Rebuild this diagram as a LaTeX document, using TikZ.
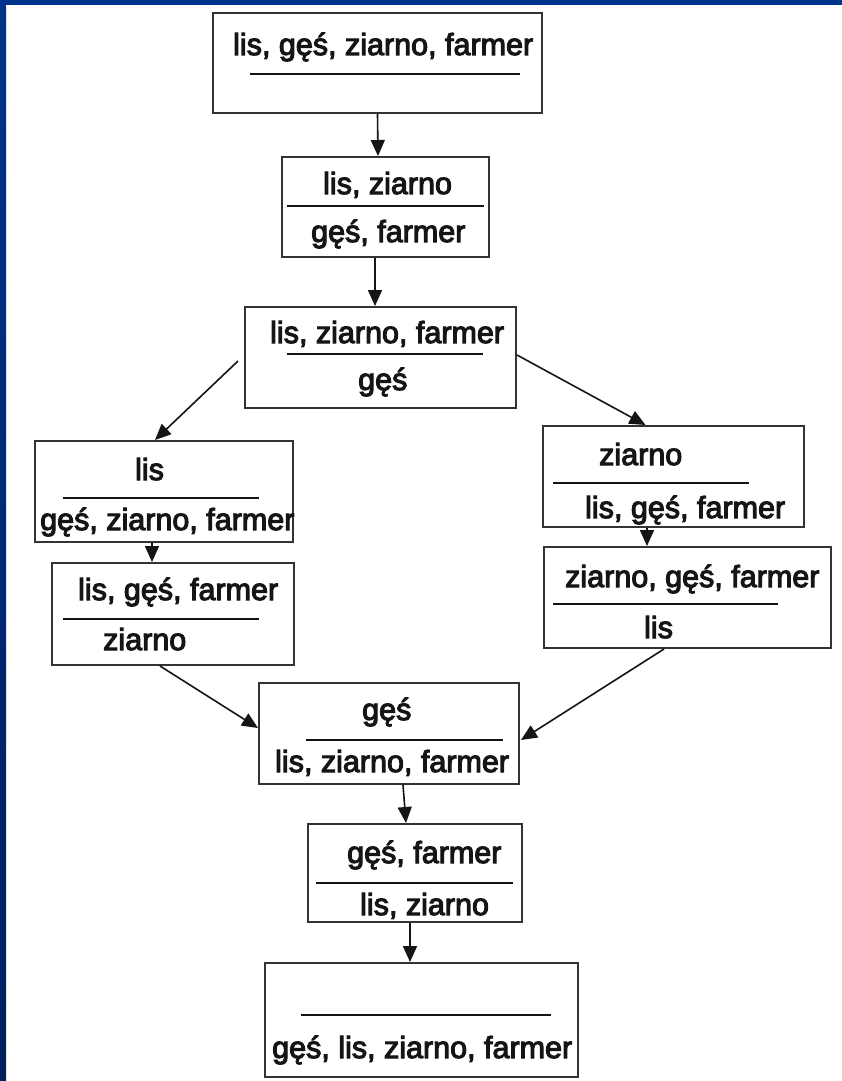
\documentclass[tikz,border=0pt]{standalone}
\usepackage{fontspec}
\newfontfamily\lab[FakeBold=3.5]{Liberation Sans}
\usetikzlibrary{arrows.meta,calc}
\definecolor{navytop}{HTML}{00338C}
\definecolor{navybot}{HTML}{001E5C}
\definecolor{boxline}{HTML}{333333}
\definecolor{ink}{HTML}{151515}
\tikzset{
  box/.style={draw=boxline,line width=2pt,fill=white,inner sep=0pt,rectangle},
  lbl/.style={anchor=base west,inner sep=0pt,font=\lab\fontsize{30.5}{36}\selectfont,text=ink},
  sep/.style={draw=ink,line width=1.8pt},
  arr/.style={draw=ink,line width=1.6pt,-{Triangle[length=16pt,width=14pt]}}
}
\begin{document}
\begin{tikzpicture}[x=1pt,y=-1pt]
\useasboundingbox (0,0) rectangle (842,1081);
\fill[white] (0,0) rectangle (842,1081);
\shade[top color=navytop,bottom color=navybot] (0,0) rectangle (6,1081);
\fill[navytop] (0,0) rectangle (842,5);

% boxes
\node[box,minimum width=329pt,minimum height=100pt] (b1) at (377.5,63) {};
\node[box,minimum width=207pt,minimum height=100pt] (b2) at (385.5,207) {};
\node[box,minimum width=271pt,minimum height=101pt] (b3) at (380.5,357.5) {};
\node[box,minimum width=258pt,minimum height=101pt] (b4) at (164,491.5) {};
\node[box,minimum width=242pt,minimum height=102pt] (b5) at (173,614) {};
\node[box,minimum width=261pt,minimum height=101pt] (b6) at (673.5,476.5) {};
\node[box,minimum width=287pt,minimum height=101pt] (b7) at (687.5,597.5) {};
\node[box,minimum width=260pt,minimum height=101pt] (b8) at (389,733.5) {};
\node[box,minimum width=214pt,minimum height=98pt] (b9) at (415,873) {};
\node[box,minimum width=313pt,minimum height=114pt] (b10) at (421.5,1020) {};

% box 1
\node[lbl] (t1a) at (233,55) {lis, gęś, ziarno, farmer};
\draw[sep] (250,74) -- (520,74);
% box 2
\node[lbl] (t2a) at (323,194) {lis, ziarno};
\draw[sep] (287,206) -- (484,206);
\node[lbl] (t2b) at (311,242) {gęś, farmer};
% box 3
\node[lbl] (t3a) at (270,343) {lis, ziarno, farmer};
\draw[sep] (287,354) -- (483,354);
\node[lbl] (t3b) at (358,390) {gęś};
% box 4
\node[lbl] (t4a) at (135,480) {lis};
\draw[sep] (63,498) -- (259,498);
\node[lbl] (t4b) at (40,530) {gęś, ziarno, farmer};
% box 5
\node[lbl] (t5a) at (78,600) {lis, gęś, farmer};
\draw[sep] (63,619) -- (259,619);
\node[lbl] (t5b) at (103,650) {ziarno};
% box 6
\node[lbl] (t6a) at (599,465) {ziarno};
\draw[sep] (553,483) -- (749,483);
\node[lbl] (t6b) at (585,518) {lis, gęś, farmer};
% box 7
\node[lbl] (t7a) at (565,587) {ziarno, gęś, farmer};
\draw[sep] (553,604) -- (778,604);
\node[lbl] (t7b) at (644,638) {lis};
% box 8
\node[lbl] (t8a) at (362,720) {gęś};
\draw[sep] (306,740) -- (503,740);
\node[lbl] (t8b) at (275,772) {lis, ziarno, farmer};
% box 9
\node[lbl] (t9a) at (347,863) {gęś, farmer};
\draw[sep] (316,883) -- (513,883);
\node[lbl] (t9b) at (360,915) {lis, ziarno};
% box 10
\draw[sep] (301,1015) -- (551,1015);
\node[lbl] (t10b) at (272,1058) {gęś, lis, ziarno, farmer};

% connectors
\coordinate (a3s) at (238,361);
\draw[arr] (b1.south) -- ([xshift=-7.5pt]b2.north);
\draw[arr] ([xshift=-10.5pt]b2.south) -- ([xshift=-5.5pt]b3.north);
\draw[arr] (a3s) -- ([xshift=-9pt]b4.north);
\draw[arr] ([yshift=2.5pt]b3.east) -- ([xshift=-28pt]b6.north);
\draw[arr] ([xshift=-12pt]b4.south) -- ([xshift=-21pt]b5.north);
\draw[arr] ([xshift=-26.5pt]b6.south) -- ([xshift=-40.5pt]b7.north);
\draw[arr] ([xshift=-13pt]b5.south) -- ([yshift=5.5pt]b8.west);
\draw[arr] ([xshift=-23.5pt]b7.south) -- ([yshift=-6.5pt,xshift=1pt]b8.east);
\draw[arr] ([xshift=14pt]b8.south) -- ([xshift=-9pt]b9.north);
\draw[arr] ([xshift=-5pt]b9.south) -- ([xshift=-11.5pt]b10.north);
\end{tikzpicture}
\end{document}
